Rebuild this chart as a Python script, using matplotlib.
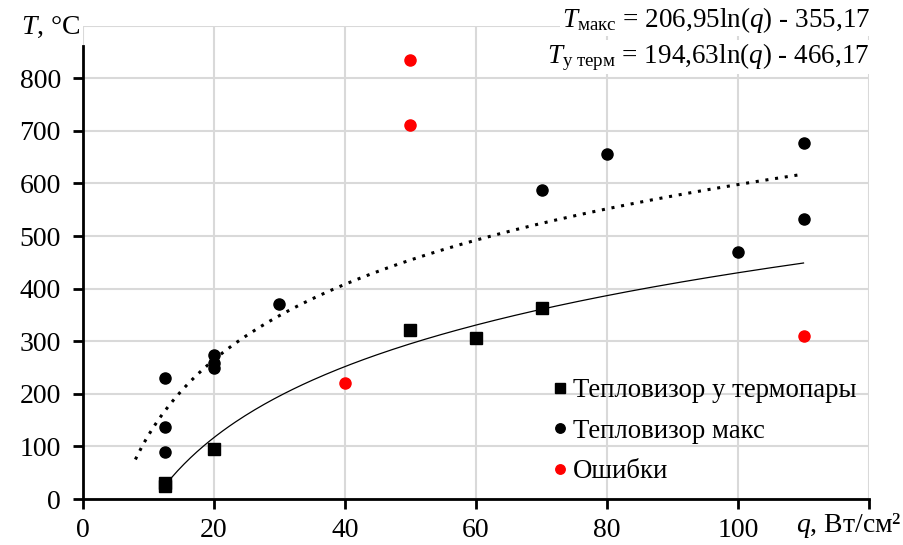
import numpy as np
import matplotlib
matplotlib.use('Agg')
import matplotlib.pyplot as plt

plt.rcParams['font.family'] = ['Liberation Serif', 'DejaVu Serif']
plt.rcParams['mathtext.fontset'] = 'custom'
plt.rcParams['mathtext.rm'] = 'Liberation Serif'
plt.rcParams['mathtext.it'] = 'Liberation Serif:italic'

# данные
q_term = [12.5, 12.5, 20, 50, 60, 70]
t_term = [24, 30, 96, 322, 307, 364]

q_max = [12.5, 12.5, 12.5, 20, 20, 20, 30, 70, 80, 100, 110, 110]
t_max = [230, 137, 90, 273, 259, 250, 371, 587, 655, 470, 676, 533]

q_err = [40, 50, 50, 110]
t_err = [220, 835, 712, 310]

# коэффициенты трендов (логарифмические)
a_max, b_max = 206.95, -355.17
a_term, b_term = 194.63, -466.17

fig = plt.figure(figsize=(9.04, 5.45), dpi=100)
ax = fig.add_axes([0.0918, 0.0844, 0.8695, 0.8686])

q1 = np.linspace(8, 110, 200)
ax.plot(q1, a_max * np.log(q1) + b_max, color='black', linestyle=(0, (1, 2.2)), linewidth=2.2, zorder=3)
q2 = np.linspace(12.5, 110, 200)
ax.plot(q2, a_term * np.log(q2) + b_term, color='black', linewidth=0.9, zorder=3)

ax.plot(q_term, t_term, 's', color='black', markersize=8, label='Тепловизор у термопары', zorder=4)
ax.plot(q_max, t_max, 'o', color='black', markersize=8, label='Тепловизор макс', zorder=4)
ax.plot(q_err, t_err, 'o', color='#ff0000', markersize=8, label='Ошибки', zorder=4)

ax.set_xlim(0, 120)
ax.set_ylim(0, 900)
ax.set_xticks(range(0, 121, 20))
ax.set_xticklabels(['0', '20', '40', '60', '80', '100', ''])
ax.set_yticks(range(0, 801, 100))
ax.set_yticks([900], minor=True)
ax.tick_params(axis='y', which='minor', length=0)

ax.grid(True, which='both', color='#d9d9d9', linewidth=1.5)
ax.set_axisbelow(True)
for s in ['top', 'right']:
    ax.spines[s].set_visible(False)
for s in ['left', 'bottom']:
    ax.spines[s].set_linewidth(2)
ax.spines['left'].set_bounds(0, 862)
ax.tick_params(axis='both', which='major', labelsize=20, width=2, length=7, color='black')
ax.tick_params(axis='y', which='major', pad=9)
ax.tick_params(axis='x', which='major', pad=7)

fig.text(80 / 904, 1 - 27 / 545, '$T$, °C', fontsize=20, ha='right', va='center')
fig.text(902 / 904, 1 - 525 / 545, '$q$, Вт/см²', fontsize=20, ha='right', va='center')

fig.text(870 / 904, 1 - 20 / 545, r'$T_{\mathrm{макс}}$ = 206,95ln($q$) - 355,17', fontsize=19.5,
         ha='right', va='center', bbox=dict(facecolor='white', edgecolor='none', pad=1))
fig.text(870 / 904, 1 - 57 / 545, r'$T_{\mathrm{у\ терм}}$ = 194,63ln($q$) - 466,17', fontsize=19.5,
         ha='right', va='center', bbox=dict(facecolor='white', edgecolor='none', pad=1))

ax.legend(loc='lower right', bbox_to_anchor=(1.015, -0.02), frameon=False, fontsize=19.3,
          markerscale=0.85, handlelength=0.5, handletextpad=0.25, labelspacing=0.58)

fig.savefig('out.png', dpi=100)
